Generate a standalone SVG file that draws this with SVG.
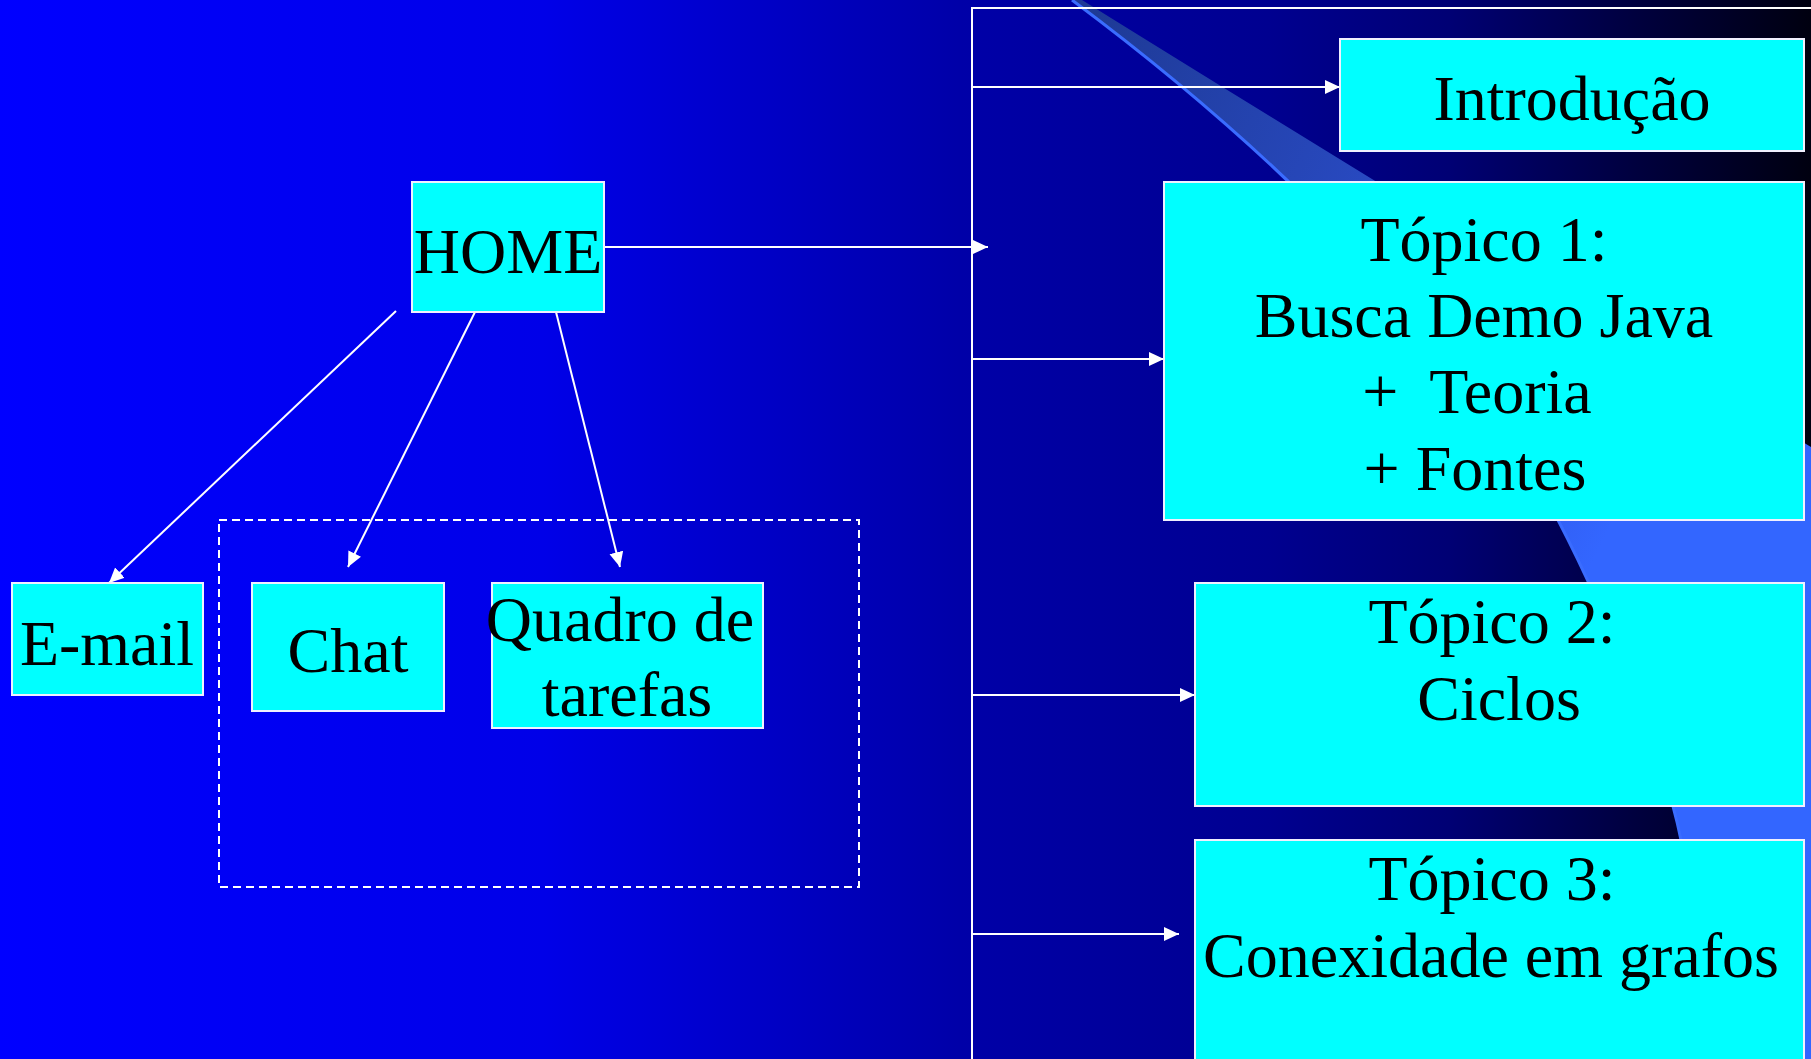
<svg xmlns="http://www.w3.org/2000/svg" width="1811" height="1059" viewBox="0 0 1811 1059">
  <defs>
    <linearGradient id="bg" x1="0" y1="0" x2="1811" y2="0" gradientUnits="userSpaceOnUse">
      <stop offset="0" stop-color="#0000FF"/>
      <stop offset="0.3" stop-color="#0000E8"/>
      <stop offset="0.53" stop-color="#0000A8"/>
      <stop offset="0.7" stop-color="#000090"/>
      <stop offset="0.8" stop-color="#000074"/>
      <stop offset="0.9" stop-color="#000040"/>
      <stop offset="1" stop-color="#000010"/>
    </linearGradient>
    <linearGradient id="band" x1="1100" y1="0" x2="1720" y2="300" gradientUnits="userSpaceOnUse">
      <stop offset="0" stop-color="#1E3A96"/>
      <stop offset="0.55" stop-color="#2A4CC8"/>
      <stop offset="0.8" stop-color="#3058E8"/>
      <stop offset="1" stop-color="#3366FF"/>
    </linearGradient>
    <marker id="arr" markerUnits="userSpaceOnUse" markerWidth="16" markerHeight="16" refX="15" refY="7" orient="auto">
      <path d="M0,0 L15,7 L0,14 Z" fill="#FFFFFF"/>
    </marker>
    <style>
      .box { fill: #00FFFF; stroke: #F0F0FF; stroke-width: 2; }
      .lbl { font-family: "Liberation Serif", "Times New Roman", serif; font-size: 64px; fill: #000000; text-anchor: middle; white-space: pre; }
      .ln { stroke: #FFFFFF; stroke-width: 2; fill: none; }
      .ar { stroke: #FFFFFF; stroke-width: 2; fill: none; marker-end: url(#arr); }
      .dash { stroke: #FFFFFF; stroke-width: 2; fill: none; stroke-dasharray: 8 5; }
    </style>
  </defs>

  <!-- background -->
  <rect x="0" y="0" width="1811" height="1059" fill="url(#bg)"/>
  <path d="M1072,0 C1260,140 1460,330 1558,520 C1610,620 1665,760 1681,840 C1695,920 1700,990 1705,1059 L1811,1059 L1811,447 Q1420,210 1082,0 Z" fill="url(#band)"/>
  <path d="M1072,0 C1260,140 1460,330 1558,520 C1610,620 1665,760 1681,840 C1695,920 1700,990 1705,1059" fill="none" stroke="#3A6CFF" stroke-width="3"/>

  <!-- connectors -->
  <g id="connectors">
    <polyline class="ln" points="1811,8 972,8 972,1059"/>
    <line class="ar" x1="972" y1="87" x2="1340" y2="87"/>
    <line class="ar" x1="972" y1="359" x2="1164" y2="359"/>
    <line class="ar" x1="972" y1="695" x2="1195" y2="695"/>
    <line class="ar" x1="972" y1="934" x2="1179" y2="934"/>
    <line class="ar" x1="604" y1="247" x2="988" y2="247"/>
    <line class="ar" x1="396" y1="311" x2="109" y2="583"/>
    <line class="ar" x1="475" y1="312" x2="348" y2="567"/>
    <line class="ar" x1="556" y1="312" x2="620" y2="567"/>
    <rect class="dash" x="219" y="520" width="640" height="367"/>
  </g>

  <!-- nodes -->
  <g id="home">
    <rect class="box" x="412" y="182" width="192" height="130"/>
    <text class="lbl" x="508" y="273">HOME</text>
  </g>
  <g id="email">
    <rect class="box" x="12" y="583" width="191" height="112"/>
    <text class="lbl" x="107" y="665">E-mail</text>
  </g>
  <g id="chat">
    <rect class="box" x="252" y="583" width="192" height="128"/>
    <text class="lbl" x="348" y="672">Chat</text>
  </g>
  <g id="quadro">
    <rect class="box" x="492" y="583" width="271" height="145"/>
    <text class="lbl" x="620" y="641">Quadro de</text>
    <text class="lbl" x="627" y="716">tarefas</text>
  </g>
  <g id="introducao">
    <rect class="box" x="1340" y="39" width="464" height="112"/>
    <text class="lbl" x="1572" y="120">Introdução</text>
  </g>
  <g id="topico1">
    <rect class="box" x="1164" y="182" width="640" height="338"/>
    <text class="lbl" x="1484" y="261">Tópico 1:</text>
    <text class="lbl" x="1484" y="337">Busca Demo Java</text>
    <text class="lbl" x="1477" y="413">+  Teoria</text>
    <text class="lbl" x="1475" y="490">+ Fontes</text>
  </g>
  <g id="topico2">
    <rect class="box" x="1195" y="583" width="609" height="223"/>
    <text class="lbl" x="1492" y="643">Tópico 2:</text>
    <text class="lbl" x="1499" y="720">Ciclos</text>
  </g>
  <g id="topico3">
    <rect class="box" x="1195" y="840" width="609" height="230"/>
    <text class="lbl" x="1492" y="900">Tópico 3:</text>
    <text class="lbl" x="1491" y="977">Conexidade em grafos</text>
  </g>
</svg>
